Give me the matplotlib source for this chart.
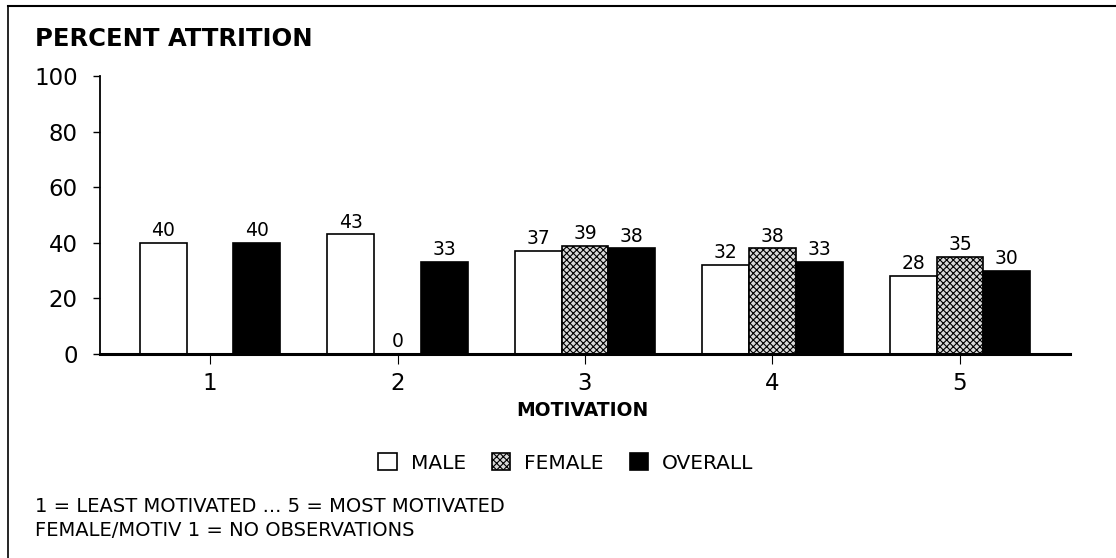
import matplotlib
matplotlib.use("Agg")
import matplotlib.pyplot as plt
from matplotlib.lines import Line2D
from matplotlib.patches import Patch
import numpy as np

plt.rcParams['font.family'] = ['DejaVu Sans']
plt.rcParams['hatch.linewidth'] = 0.8

categories = ["1", "2", "3", "4", "5"]
male = [40, 43, 37, 32, 28]
female = [None, 0, 39, 38, 35]
overall = [40, 33, 38, 33, 30]
series_names = ["MALE", "FEMALE", "OVERALL"]
yticks = [0, 20, 40, 60, 80, 100]

fig = plt.figure(figsize=(11.16, 5.58), dpi=100)
ax = fig.add_axes([100/1116, 1-354/558, (1070-100)/1116, (354-76)/558])

x = np.arange(1, len(categories) + 1)
w = 0.25

def draw(vals, off, **kw):
    for xi, v in zip(x, vals):
        if v is None:
            continue
        ax.bar(xi + off, v, width=w, edgecolor='black', linewidth=1.2, **kw)
        ax.text(xi + off, v + 1.0, f"{v}", ha='center', va='bottom', fontsize=13.5)

draw(male, -w, facecolor='white')
draw(female, 0, facecolor='#d8d8d8', hatch='xxxxx')
draw(overall, w, facecolor='black')

ax.set_xlim(0.413, 5.587)
ax.set_ylim(0, 100)
ax.set_yticks(yticks)
ax.set_yticklabels([str(t) for t in yticks], fontsize=16.5)
ax.set_xticks(x)
ax.set_xticklabels(categories, fontsize=16.5)
ax.tick_params(axis='y', direction='out', length=5, width=1, pad=11)
ax.tick_params(axis='x', direction='out', length=7, width=0.8, pad=6)
for s in ['top', 'right']:
    ax.spines[s].set_visible(False)
ax.spines['left'].set_linewidth(1.3)
ax.spines['bottom'].set_linewidth(2.2)

fig.text(35/1116, 1-39/558, "PERCENT ATTRITION", fontsize=17.5, fontweight='bold', va='center', ha='left')
fig.text(582/1116, 1-410/558, "MOTIVATION", fontsize=13.5, fontweight='bold', va='center', ha='center')

handles = [Patch(facecolor='white', edgecolor='black', linewidth=1.2),
           Patch(facecolor='#d8d8d8', edgecolor='black', hatch='xxxxx', linewidth=1.2),
           Patch(facecolor='black', edgecolor='black', linewidth=1.2)]
fig.legend(handles, series_names, loc='center', bbox_to_anchor=(566/1116, 1-463/558),
           ncol=3, frameon=False, fontsize=14.5, handlelength=0.9, handleheight=0.9,
           handletextpad=0.7, columnspacing=1.3)

fig.text(35/1116, 1-507/558, "1 = LEAST MOTIVATED ... 5 = MOST MOTIVATED", fontsize=14, va='center', ha='left')
fig.text(35/1116, 1-530/558, "FEMALE/MOTIV 1 = NO OBSERVATIONS", fontsize=14, va='center', ha='left')

# border (top and left)
fig.add_artist(Line2D([8/1116, 1], [1-6/558, 1-6/558], color='black', linewidth=1.5, transform=fig.transFigure))
fig.add_artist(Line2D([8/1116, 8/1116], [0, 1-6/558], color='black', linewidth=1.2, transform=fig.transFigure))

fig.savefig("out.png", dpi=100)
